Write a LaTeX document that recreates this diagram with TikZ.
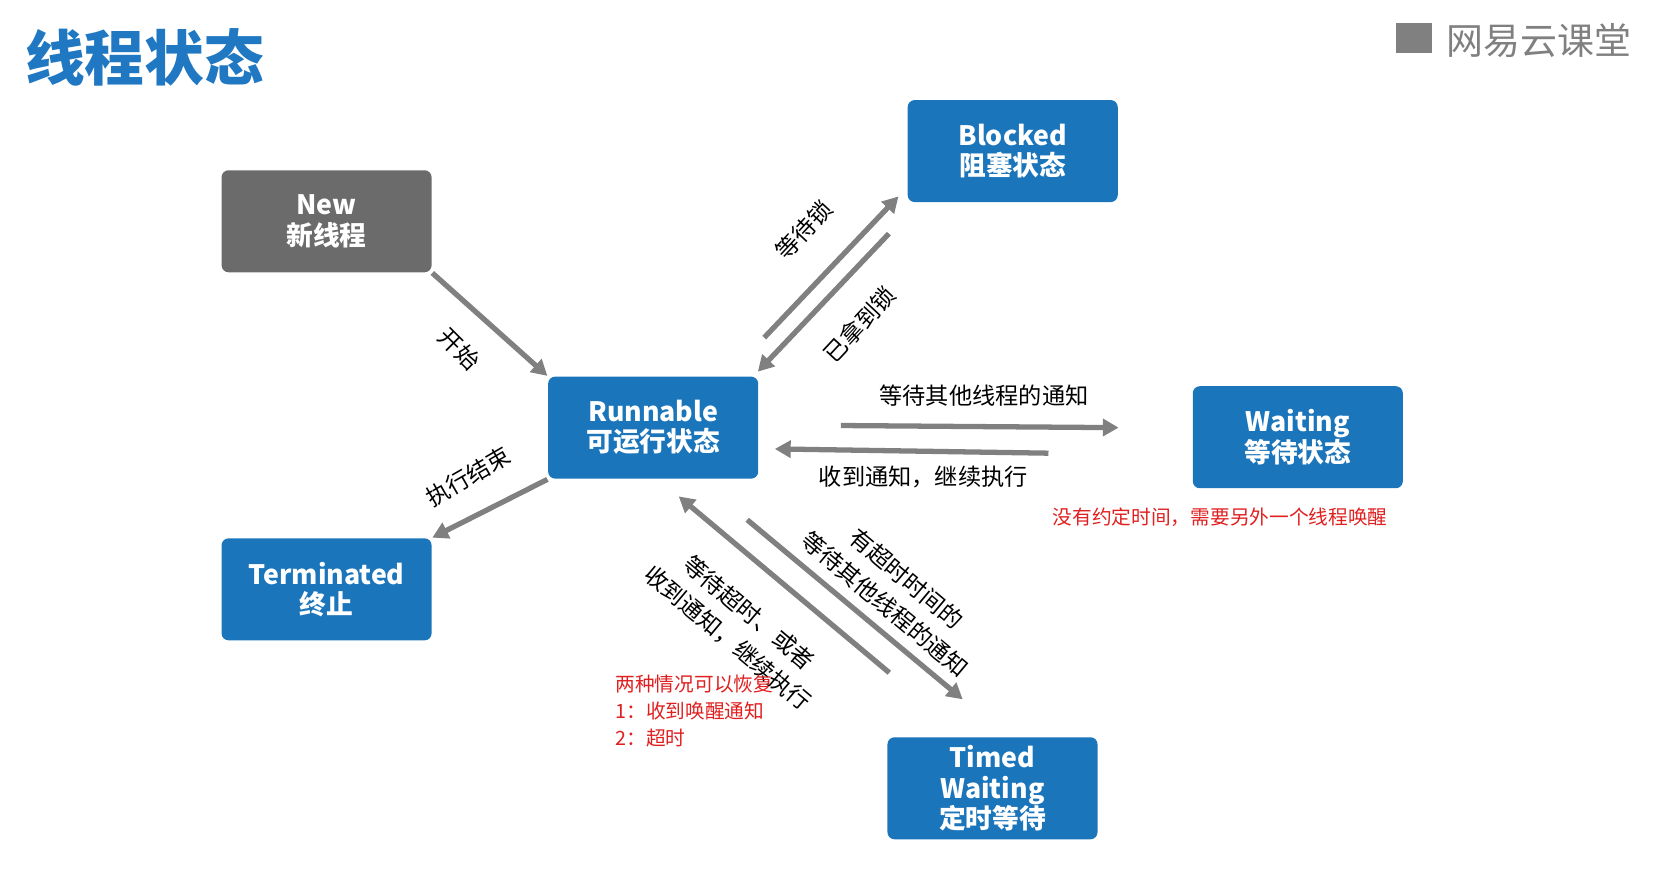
\documentclass[tikz,border=0pt]{standalone}
\usepackage{fontspec}
\setmainfont{Noto Sans CJK SC}
\usetikzlibrary{arrows.meta}
\definecolor{boxblue}{HTML}{1B75BB}
\definecolor{boxgray}{HTML}{6B6B6B}
\definecolor{arrgray}{HTML}{808080}
\definecolor{titleblue}{HTML}{1F78C1}
\definecolor{notered}{HTML}{E02020}
\begin{document}
\begin{tikzpicture}
[x=0.01064cm, y=-0.01064cm,
 state/.style={minimum width=2.1cm, minimum height=1.02cm, inner sep=0pt, rounded corners=2pt,
   fill=boxblue, text=white, font=\fontsize{7.6}{8.6}\selectfont\bfseries, align=center},
 arr/.style={draw=arrgray, line width=1.5pt, -{Triangle[length=4.5pt,width=4.8pt]}},
 lbl/.style={font=\fontsize{6.6}{9.4}\selectfont, inner sep=0pt, align=center},
 note/.style={font=\fontsize{5.6}{7.6}\selectfont, text=notered, inner sep=0pt, align=left}]
\useasboundingbox (0,0) rectangle (1568,824);
% title and logo
\node[anchor=west, text=titleblue, font=\fontsize{17}{20}\selectfont\bfseries] (title) at (12,54) {线程状态};
\node[anchor=west, text=gray, font=\fontsize{10.5}{12}\selectfont] (logo) at (1348,38) {网易云课堂};
\fill[gray] (1312,22) rectangle (1346,50);
% states
\node[state, fill=boxgray] (new) at (307,208) {New\\新线程};
\node[state] (blk) at (952,142) {Blocked\\阻塞状态};
\node[state] (run) at (614,402) {Runnable\\可运行状态};
\node[state] (wait) at (1220,411) {Waiting\\等待状态};
\node[state] (term) at (307,554) {Terminated\\终止};
\node[state] (timed) at (933,741) {Timed\\Waiting\\定时等待};
% transitions
\draw[arr] (new.south east) -- (run.north west);
\draw[arr] (run.south west) -- (term.north east);
\draw[arr] ([shift={(5,-36)}]run.north east) -- ([shift={(-8,-6)}]blk.south west);
\draw[arr] ([shift={(-17,29)}]blk.south west) -- ([shift={(-1,-4)}]run.north east);
\draw[arr] ([shift={(77,-2)}]run.east) -- ([shift={(-69,-9)}]wait.west);
\draw[arr] ([shift={(-135,15)}]wait.west) -- ([shift={(15,20)}]run.east);
\draw[arr] ([shift={(-11,38)}]run.south east) -- ([shift={(-28,-35)}]timed.north);
\draw[arr] ([shift={(-97,-60)}]timed.north) -- ([shift={(24,16)}]run.south);
% labels
\node[lbl, rotate=-45] (lstart) at (432,328) {开始};
\node[lbl, rotate=30] (lend) at (440,448) {执行结束};
\node[lbl, rotate=47] (llock) at (756,216) {等待锁};
\node[lbl, rotate=47] (lgot) at (808,305) {已拿到锁};
\node[lbl] (lwait) at (925,372) {等待其他线程的通知};
\node[lbl] (lnotify) at (868,448) {收到通知，继续执行};
\node[lbl, rotate=-40] (ltimed) at (842,556) {有超时时间的\\等待其他线程的通知};
\node[lbl, rotate=-40] (lback) at (694,588) {等待超时、或者\\收到通知，继续执行};
% notes
\node[note] (nwait) at (1147,486) {没有约定时间，需要另外一个线程唤醒};
\node[note, anchor=north west] (ntimed) at (578,634) {两种情况可以恢复\\1：收到唤醒通知\\2：超时};
\end{tikzpicture}
\end{document}
